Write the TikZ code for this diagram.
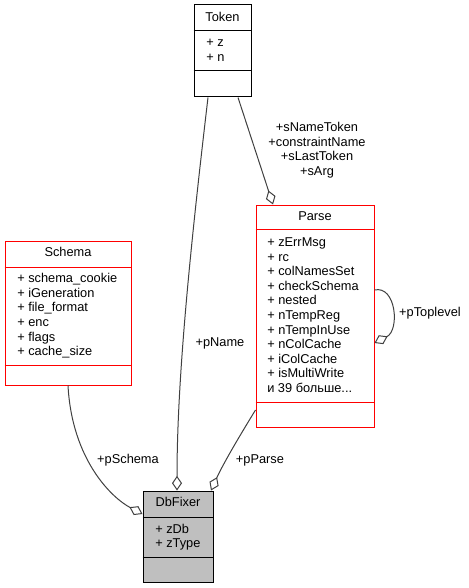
\documentclass[tikz,border=0pt]{standalone}
\usepackage{fontspec}
\setmainfont{Liberation Sans}
\usetikzlibrary{arrows.meta}
\begin{document}
\begin{tikzpicture}[x=0.75pt,y=-0.75pt,
  cls/.style={draw=black, line width=0.75pt, rectangle, inner sep=0pt},
  redcls/.style={cls, draw=red},
  sepline/.style={line width=0.75pt},
  ttl/.style={inner sep=0pt, anchor=base, font=\fontsize{9.6}{11}\selectfont},
  txt/.style={inner sep=0pt, anchor=base west, font=\fontsize{9.6}{11}\selectfont},
  lbl/.style={inner sep=0pt, anchor=base, font=\fontsize{9.6}{11}\selectfont},
  edge/.style={draw=black!75, line width=0.75pt, -{Diamond[open,length=11pt,width=7.5pt]}}]
\useasboundingbox (0,0) rectangle (468,588);

% Token
\node[cls, minimum width=42.75pt, minimum height=69pt] (token) at (222.5,51) {};
\draw[sepline] (token.west |- 0,31) -- (token.east |- 0,31);
\draw[sepline] (token.west |- 0,71) -- (token.east |- 0,71);
\node[ttl] (tokenT) at (222.5,22) {Token};
\node[txt] (tokenA1) at (206,47) {+ z};
\node[txt] (tokenA2) at (206,61.5) {+ n};

% Parse
\node[redcls, minimum width=88.5pt, minimum height=166.5pt] (parse) at (315,316) {};
\draw[sepline, red] (parse.west |- 0,229) -- (parse.east |- 0,229);
\draw[sepline, red] (parse.west |- 0,402) -- (parse.east |- 0,402);
\node[ttl] (parseT) at (315,220.7) {Parse};
\foreach \t [count=\i from 0] in {+ zErrMsg,+ rc,+ colNamesSet,+ checkSchema,+ nested,+ nTempReg,+ nTempInUse,+ nColCache,+ iColCache,+ isMultiWrite}
  \node[txt] (parseA\i) at (267,246.5+14.6*\i) {\t};
\node[txt] (parseMore) at (267,392.5) {и 39 больше{.}{.}{.}};

% Schema
\node[redcls, minimum width=94.5pt, minimum height=108pt] (schema) at (68,313) {};
\draw[sepline, red] (schema.west |- 0,267) -- (schema.east |- 0,267);
\draw[sepline, red] (schema.west |- 0,365) -- (schema.east |- 0,365);
\node[ttl] (schemaT) at (68,256.7) {Schema};
\foreach \t [count=\i from 0] in {+ schema\_cookie,+ iGeneration,+ file\_format,+ enc,+ flags,+ cache\_size}
  \node[txt] (schemaA\i) at (17,282.7+14.6*\i) {\t};

% DbFixer
\node[cls, fill={rgb,255:red,191;green,191;blue,191}, minimum width=52.5pt, minimum height=68.25pt] (dbfixer) at (178,536.5) {};
\draw[sepline] (dbfixer.west |- 0,517) -- (dbfixer.east |- 0,517);
\draw[sepline] (dbfixer.west |- 0,557) -- (dbfixer.east |- 0,557);
\node[ttl] (dbfixerT) at (178,506.7) {DbFixer};
\node[txt] (dbfixerA1) at (155,533) {+ zDb};
\node[txt] (dbfixerA2) at (155,547.5) {+ zType};

% Edges
\draw[edge] (token.south -| 208,0) .. controls (190,250) and (177,380) .. (dbfixer.north -| 177,0);
\node[lbl] (lpName) at (220,346.5) {+pName};

\draw[edge] (token.south -| 238,0) -- (parse.north -| 273,0);
\node[lbl] (l1) at (317,131.7) {+sNameToken};
\node[lbl] (l2) at (317,146.2) {+constraintName};
\node[lbl] (l3) at (317,160.7) {+sLastToken};
\node[lbl] (l4) at (317,175.2) {+sArg};

\draw[edge] (schema.south -| 68,0) .. controls (72,460) and (112,498) .. (dbfixer.west |- 0,514);
\node[lbl] (lpSchema) at (128,463.3) {+pSchema};

\draw[edge] (parse.west |- 0,410) .. controls (242,432) and (224,462) .. (dbfixer.north -| 211,0);
\node[lbl] (lpParse) at (260,463.3) {+pParse};

\draw[edge] (parse.east |- 0,290) .. controls (396,285) and (400,330) .. (parse.east |- 0,343);
\node[lbl] (lpToplevel) at (430,316.7) {+pToplevel};
\end{tikzpicture}
\end{document}
